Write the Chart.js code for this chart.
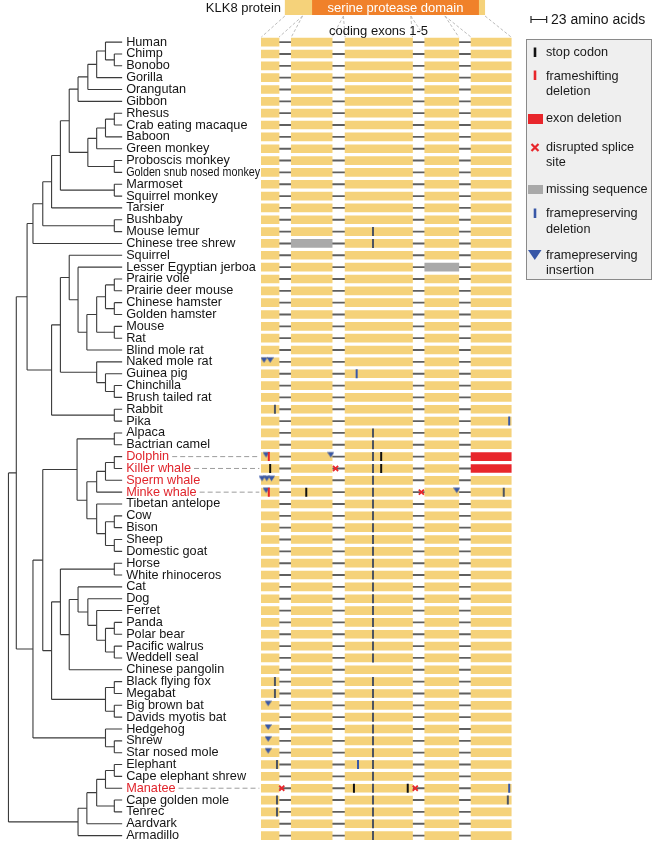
<!DOCTYPE html>
<html>
<head>
<meta charset="utf-8">
<script src="https://cdn.jsdelivr.net/npm/chart.js@4.4.1/dist/chart.umd.min.js"></script>
<style>
  html, body { margin: 0; padding: 0; background: #fff; }
  canvas { display: block; }
</style>
</head>
<body>
<canvas id="chart" width="653" height="848"></canvas>
<script>
// species, top to bottom
const species = [
  'Human', 'Chimp', 'Bonobo', 'Gorilla', 'Orangutan', 'Gibbon', 'Rhesus', 'Crab eating macaque',
  'Baboon', 'Green monkey', 'Proboscis monkey', 'Golden snub nosed monkey', 'Marmoset',
  'Squirrel monkey', 'Tarsier', 'Bushbaby', 'Mouse lemur', 'Chinese tree shrew', 'Squirrel',
  'Lesser Egyptian jerboa', 'Prairie vole', 'Prairie deer mouse', 'Chinese hamster',
  'Golden hamster', 'Mouse', 'Rat', 'Blind mole rat', 'Naked mole rat', 'Guinea pig',
  'Chinchilla', 'Brush tailed rat', 'Rabbit', 'Pika', 'Alpaca', 'Bactrian camel', 'Dolphin',
  'Killer whale', 'Sperm whale', 'Minke whale', 'Tibetan antelope', 'Cow', 'Bison', 'Sheep',
  'Domestic goat', 'Horse', 'White rhinoceros', 'Cat', 'Dog', 'Ferret', 'Panda', 'Polar bear',
  'Pacific walrus', 'Weddell seal', 'Chinese pangolin', 'Black flying fox', 'Megabat',
  'Big brown bat', 'Davids myotis bat', 'Hedgehog', 'Shrew', 'Star nosed mole', 'Elephant',
  'Cape elephant shrew', 'Manatee', 'Cape golden mole', 'Tenrec', 'Aardvark', 'Armadillo'
];
const redSpecies = ['Dolphin', 'Killer whale', 'Sperm whale', 'Minke whale', 'Manatee'];
const linkedSpecies = ['Dolphin', 'Killer whale', 'Minke whale', 'Manatee'];
const condensedLabels = ['Golden snub nosed monkey'];

// tree: [branch depth, child, child]
const tree = [116,
  [108,
    [97,
      [91,
        [81,
          [72,
            [63,
              [54,
                [45, [35, [26, [17, 'Human', [8, 'Chimp', 'Bonobo']], 'Gorilla'], 'Orangutan'], 'Gibbon'],
                [35, [26, [17, [8, 'Rhesus', 'Crab eating macaque'], 'Baboon'], 'Green monkey'],
                  [8, 'Proboscis monkey', 'Golden snub nosed monkey']]],
              [8, 'Marmoset', 'Squirrel monkey']],
            'Tarsier'],
          [8, 'Bushbaby', 'Mouse lemur']],
        'Chinese tree shrew'],
      [72,
        [63,
          [54, 'Squirrel',
            [45, 'Lesser Egyptian jerboa',
              [36, [26, [17, [8, 'Prairie vole', 'Prairie deer mouse'], [8, 'Chinese hamster', 'Golden hamster']],
                [8, 'Mouse', 'Rat']], 'Blind mole rat']]],
          [26, 'Naked mole rat', [17, 'Guinea pig', [8, 'Chinchilla', 'Brush tailed rat']]]],
        [8, 'Rabbit', 'Pika']]],
    [91,
      [81,
        [46, [8, 'Alpaca', 'Bactrian camel'],
          [36, [26, [17, [8, 'Dolphin', 'Killer whale'], 'Sperm whale'], 'Minke whale'],
            [26, 'Tibetan antelope', [17, [8, 'Cow', 'Bison'], [8, 'Sheep', 'Domestic goat']]]]],
        [72,
          [63, [8, 'Horse', 'White rhinoceros'],
            [54, [45, 'Cat', [35, 'Dog', [26, 'Ferret', [17, [8, 'Panda', 'Polar bear'], [8, 'Pacific walrus', 'Weddell seal']]]]],
              'Chinese pangolin']],
          [17, [8, 'Black flying fox', 'Megabat'], [8, 'Big brown bat', 'Davids myotis bat']]]],
      [17, 'Hedgehog', [8, 'Shrew', 'Star nosed mole']]]],
  [45,
    [36, [26, [17, [8, 'Elephant', 'Cape elephant shrew'], 'Manatee'], [8, 'Cape golden mole', 'Tenrec']], 'Aardvark'],
    'Armadillo']];

// coding exons, in amino acids along the gene axis
const exonStart = [0, 44, 123, 240, 308];
const exonEnd = [26, 104, 222, 290, 367];
const domainStart = 40;
const domainEnd = 285;
const scaleBarAA = 23;

// exon states [species, exon number]
const missingSequence = [['Chinese tree shrew', 2], ['Lesser Egyptian jerboa', 4]];
const exonDeletion = [['Dolphin', 5], ['Killer whale', 5]];

// mutations [species, position in aa]
const stopCodons = [['Dolphin', 176], ['Killer whale', 13], ['Killer whale', 176],
  ['Minke whale', 66], ['Manatee', 136], ['Manatee', 215]];
const frameshiftDeletions = [['Dolphin', 11], ['Minke whale', 11]];
const spliceSites = [['Killer whale', 109], ['Minke whale', 235], ['Manatee', 30], ['Manatee', 226]];
const fpDeletions = [['Guinea pig', 140], ['Pika', 364], ['Elephant', 142], ['Manatee', 364]];
const fpDeletionsDark = [['Rabbit', 20], ['Black flying fox', 20], ['Megabat', 20], ['Elephant', 23],
  ['Cape golden mole', 23], ['Cape golden mole', 362], ['Tenrec', 23], ['Minke whale', 356]];
const sharedDeletionPos = 164;
const sharedDeletionSpecies = ['Mouse lemur', 'Chinese tree shrew', 'Alpaca', 'Bactrian camel',
  'Dolphin', 'Killer whale', 'Sperm whale', 'Minke whale', 'Tibetan antelope', 'Cow', 'Bison',
  'Sheep', 'Domestic goat', 'Horse', 'White rhinoceros', 'Cat', 'Dog', 'Ferret', 'Panda',
  'Polar bear', 'Pacific walrus', 'Weddell seal', 'Black flying fox', 'Megabat', 'Big brown bat',
  'Davids myotis bat', 'Hedgehog', 'Shrew', 'Star nosed mole', 'Elephant', 'Cape elephant shrew',
  'Manatee', 'Cape golden mole', 'Tenrec', 'Aardvark', 'Armadillo'];
const fpInsertions = [['Naked mole rat', 4], ['Naked mole rat', 13], ['Dolphin', 7], ['Dolphin', 102],
  ['Sperm whale', 1], ['Sperm whale', 8], ['Sperm whale', 15], ['Minke whale', 7], ['Minke whale', 287],
  ['Big brown bat', 10], ['Hedgehog', 10], ['Shrew', 10], ['Star nosed mole', 10]];

const YELLOW = '#f5d27a', ORANGE = '#f0812a', RED = '#e8262b', GREY = '#a9a9a9';
const BLUE = '#3857a7', DARK = '#4d5461', INTRON = '#5f5f5f';
const FONT = '"Liberation Sans", Arial, sans-serif';

// page layout (pixels)
const W = 653, H = 848;
const GENE_LEFT = 260, GENE_RIGHT = 515, TIP_X = 118;
const aaPerPx = exonEnd[4] / (GENE_RIGHT - GENE_LEFT);

function stateOf(name, exon) {
  if (missingSequence.some(([s, e]) => s === name && e === exon)) return GREY;
  if (exonDeletion.some(([s, e]) => s === name && e === exon)) return RED;
  return YELLOW;
}
const toPoints = list => list.map(([s, x]) => ({ x: x, y: s }));

function triangleImage(w, h, color) {
  const c = document.createElement('canvas');
  c.width = w; c.height = 16;
  const g = c.getContext('2d');
  g.fillStyle = color;
  g.beginPath();
  g.moveTo(0, 3.5); g.lineTo(w, 3.5); g.lineTo(w / 2, 3.5 + h); g.closePath();
  g.fill();
  return c;
}

const datasets = [];
for (let k = 0; k < 4; k++) {
  datasets.push({
    type: 'bar', label: 'intron ' + (k + 1), order: 10,
    data: species.map(() => [exonEnd[k], exonStart[k + 1]]),
    backgroundColor: INTRON, barThickness: 1.2, grouped: false, borderWidth: 0
  });
}
for (let k = 0; k < 5; k++) {
  datasets.push({
    type: 'bar', label: 'exon ' + (k + 1), order: 5,
    data: species.map(() => [exonStart[k], exonEnd[k]]),
    backgroundColor: c => stateOf(species[c.dataIndex], k + 1),
    barThickness: 8, grouped: false, borderWidth: 0
  });
}
const tick = (label, pts, color, order) => ({
  type: 'scatter', label: label, order: order, data: pts,
  pointStyle: 'line', rotation: 90, radius: 4.5, hoverRadius: 4.5,
  borderWidth: 2, borderColor: color, backgroundColor: color
});
datasets.push({
  type: 'scatter', label: 'framepreserving insertion', order: 3, data: toPoints(fpInsertions),
  pointStyle: triangleImage(7, 5.5, BLUE), radius: 4
});
datasets.push(tick('shared deletion', sharedDeletionSpecies.map(s => ({ x: sharedDeletionPos, y: s })), DARK, 2));
datasets.push(tick('framepreserving deletion dark', toPoints(fpDeletionsDark), DARK, 2));
datasets.push(tick('framepreserving deletion', toPoints(fpDeletions), BLUE, 2));
datasets.push(tick('frameshifting deletion', toPoints(frameshiftDeletions), RED, 1));
datasets.push(tick('stop codon', toPoints(stopCodons), '#111111', 1));
datasets.push({
  type: 'scatter', label: 'disrupted splice site', order: 0, data: toPoints(spliceSites),
  pointStyle: 'crossRot', radius: 3.6, borderWidth: 1.8, borderColor: RED, backgroundColor: RED
});

function place(node) {
  if (typeof node === 'string') return { depth: 0, row: species.indexOf(node) };
  const kids = node.slice(1).map(place);
  return { depth: node[0], row: (kids[0].row + kids[kids.length - 1].row) / 2, kids: kids };
}

const decor = {
  id: 'decor',
  afterDatasetsDraw(chart) {
    const ctx = chart.ctx, xs = chart.scales.x, ts = chart.scales.tree, ys = chart.scales.y;
    ctx.save();

    // tree
    ctx.strokeStyle = '#3b3b3b';
    ctx.lineWidth = 1.1;
    const drawNode = n => {
      if (!n.kids) return;
      const x = ts.getPixelForValue(n.depth);
      ctx.beginPath();
      ctx.moveTo(x, ys.getPixelForValue(n.kids[0].row));
      ctx.lineTo(x, ys.getPixelForValue(n.kids[n.kids.length - 1].row));
      n.kids.forEach(k => {
        const y = ys.getPixelForValue(k.row);
        ctx.moveTo(x, y);
        ctx.lineTo(ts.getPixelForValue(k.depth), y);
      });
      ctx.stroke();
      n.kids.forEach(drawNode);
    };
    drawNode(place(tree));

    // species labels
    ctx.font = '12.7px ' + FONT;
    ctx.textBaseline = 'middle';
    const labelX = ts.getPixelForValue(0) + 4;
    species.forEach((s, i) => {
      const y = ys.getPixelForValue(i);
      ctx.fillStyle = redSpecies.includes(s) ? '#e0252c' : '#151515';
      let w = ctx.measureText(s).width;
      if (condensedLabels.includes(s)) {
        const f = 134 / w;
        ctx.save(); ctx.translate(labelX, y); ctx.scale(f, 1);
        ctx.fillText(s, 0, 0); ctx.restore();
        w *= f;
      } else {
        ctx.fillText(s, labelX, y);
      }
      if (linkedSpecies.includes(s)) {
        ctx.save();
        ctx.strokeStyle = '#9c9c9c'; ctx.lineWidth = 1; ctx.setLineDash([5, 3]);
        ctx.beginPath(); ctx.moveTo(labelX + w + 3, y); ctx.lineTo(xs.getPixelForValue(exonStart[0]) - 2, y);
        ctx.stroke(); ctx.restore();
      }
    });

    // protein bar and exon mapping
    const protLen = exonEnd.reduce((a, e, k) => a + e - exonStart[k], 0);
    const protOffset = (284 - GENE_LEFT) * aaPerPx;
    const px = v => xs.getPixelForValue(protOffset + v);
    ctx.fillStyle = YELLOW;
    ctx.fillRect(px(0), 0, px(protLen) - px(0), 15);
    ctx.fillStyle = ORANGE;
    ctx.fillRect(px(domainStart), 0, px(domainEnd) - px(domainStart), 15);

    const topY = ys.getPixelForValue(0) - 5;
    ctx.save();
    ctx.strokeStyle = '#b4b4b4'; ctx.lineWidth = 0.9; ctx.setLineDash([3, 2]);
    let cum = 0;
    for (let k = 0; k < 5; k++) {
      const len = exonEnd[k] - exonStart[k];
      ctx.beginPath();
      ctx.moveTo(px(cum), 16); ctx.lineTo(xs.getPixelForValue(exonStart[k]), topY);
      ctx.moveTo(px(cum + len), 16); ctx.lineTo(xs.getPixelForValue(exonEnd[k]), topY);
      ctx.stroke();
      cum += len;
    }
    ctx.restore();

    ctx.font = '13px ' + FONT;
    ctx.textAlign = 'right';
    ctx.fillStyle = '#151515';
    ctx.fillText('KLK8 protein', 281, 8);
    ctx.textAlign = 'center';
    ctx.fillStyle = '#ffffff';
    ctx.fillText('serine protease domain', (px(domainStart) + px(domainEnd)) / 2, 8);
    ctx.fillStyle = '#151515';
    ctx.fillText('coding exons 1-5', 378.5, 31.5);

    // scale bar
    const sb0 = 531, sb1 = sb0 + (xs.getPixelForValue(scaleBarAA) - xs.getPixelForValue(0));
    ctx.strokeStyle = '#222'; ctx.lineWidth = 1.2;
    ctx.beginPath();
    ctx.moveTo(sb0, 19.5); ctx.lineTo(sb1, 19.5);
    ctx.moveTo(sb0, 16); ctx.lineTo(sb0, 23);
    ctx.moveTo(sb1, 16); ctx.lineTo(sb1, 23);
    ctx.stroke();
    ctx.textAlign = 'left';
    ctx.font = '14px ' + FONT;
    ctx.fillText(scaleBarAA + ' amino acids', 551, 20);

    // legend box
    ctx.fillStyle = '#efefef';
    ctx.fillRect(526.5, 39.5, 125, 240);
    ctx.strokeStyle = '#8a8a8a'; ctx.lineWidth = 1;
    ctx.strokeRect(526.5, 39.5, 125, 240);
    const lx = 535, tx = 546;
    ctx.lineWidth = 2.6;
    ctx.strokeStyle = '#111';
    ctx.beginPath(); ctx.moveTo(lx, 47.5); ctx.lineTo(lx, 57); ctx.stroke();
    ctx.strokeStyle = RED;
    ctx.beginPath(); ctx.moveTo(lx, 70.5); ctx.lineTo(lx, 80); ctx.stroke();
    ctx.strokeStyle = BLUE;
    ctx.beginPath(); ctx.moveTo(lx, 208.5); ctx.lineTo(lx, 218); ctx.stroke();
    ctx.fillStyle = RED; ctx.fillRect(528, 114, 15, 10);
    ctx.fillStyle = GREY; ctx.fillRect(528, 185, 15, 9);
    ctx.strokeStyle = RED; ctx.lineWidth = 2.2;
    ctx.beginPath();
    ctx.moveTo(lx - 3.5, 144); ctx.lineTo(lx + 3.5, 151);
    ctx.moveTo(lx + 3.5, 144); ctx.lineTo(lx - 3.5, 151);
    ctx.stroke();
    ctx.fillStyle = BLUE;
    ctx.beginPath(); ctx.moveTo(528, 250); ctx.lineTo(541.5, 250); ctx.lineTo(534.8, 260); ctx.closePath(); ctx.fill();

    ctx.fillStyle = '#1a1a1a';
    ctx.font = '12.7px ' + FONT;
    [['stop codon', 52.5], ['frameshifting', 76.7], ['deletion', 91.7], ['exon deletion', 118.5],
     ['disrupted splice', 147.5], ['site', 162.7], ['missing sequence', 189.3],
     ['framepreserving', 213.5], ['deletion', 229.3], ['framepreserving', 255], ['insertion', 270.3]]
      .forEach(([t, y]) => ctx.fillText(t, tx, y));

    ctx.restore();
  }
};

new Chart(document.getElementById('chart'), {
  type: 'bar',
  data: { labels: species, datasets: datasets },
  options: {
    indexAxis: 'y',
    responsive: false,
    devicePixelRatio: 1,
    animation: false,
    events: [],
    layout: { padding: { top: 36.2, bottom: H - 36.2 - 68 * 11.909, left: 0, right: 0 } },
    scales: {
      x: { type: 'linear', display: false, min: -GENE_LEFT * aaPerPx, max: (W - GENE_LEFT) * aaPerPx },
      tree: { type: 'linear', position: 'bottom', display: false, reverse: true, min: TIP_X - W, max: TIP_X },
      y: { type: 'category', display: false, offset: true }
    },
    plugins: { legend: { display: false }, tooltip: { enabled: false } }
  },
  plugins: [decor]
});
</script>
</body>
</html>
